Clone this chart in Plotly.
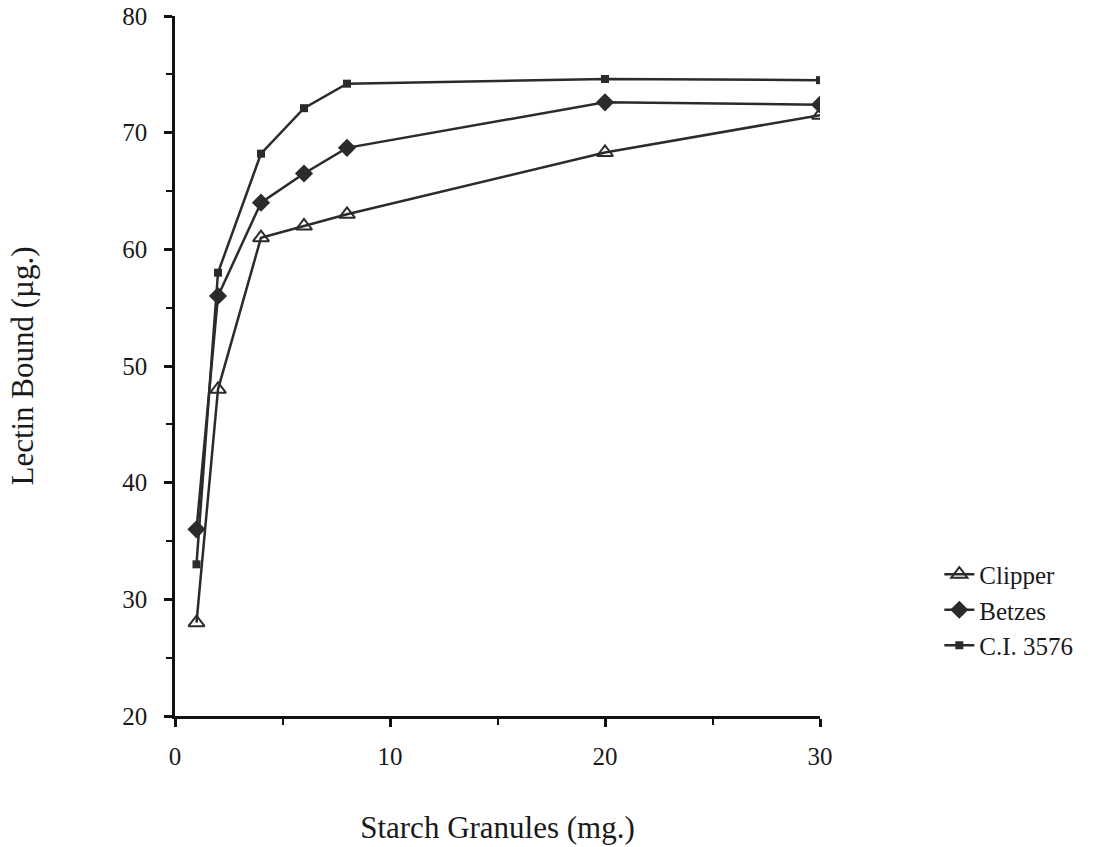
import plotly.graph_objects as go

starch_mg = [1, 2, 4, 6, 8, 20, 30]
clipper = [28, 48, 61, 62, 63, 68.3, 71.5]
betzes = [36, 56, 64, 66.5, 68.7, 72.6, 72.4]
ci3576 = [33, 58, 68.2, 72.1, 74.2, 74.6, 74.5]

series_names = ["Clipper", "Betzes", "C.I. 3576"]
x_ticks = [0, 10, 20, 30]
y_ticks = [20, 30, 40, 50, 60, 70, 80]

ink = "#2b2b2b"
font = "Liberation Serif, Times New Roman, serif"

fig = go.Figure()
fig.add_trace(go.Scatter(
    x=starch_mg, y=clipper, name=series_names[0], mode="lines+markers",
    line=dict(color=ink, width=2.5),
    marker=dict(symbol="triangle-up-open", size=14, color=ink, line=dict(width=2, color=ink)),
))
fig.add_trace(go.Scatter(
    x=starch_mg, y=betzes, name=series_names[1], mode="lines+markers",
    line=dict(color=ink, width=2.5),
    marker=dict(symbol="diamond", size=14, color=ink),
))
fig.add_trace(go.Scatter(
    x=starch_mg, y=ci3576, name=series_names[2], mode="lines+markers",
    line=dict(color=ink, width=2.5),
    marker=dict(symbol="square", size=8, color=ink),
))

fig.update_layout(
    width=1099, height=847,
    margin=dict(l=175, r=279, t=16, b=131, autoexpand=False),
    paper_bgcolor="white", plot_bgcolor="white",
    font=dict(family=font, color="#1a1a1a", size=25),
    legend=dict(
        x=1.185, y=0.235, xanchor="left", yanchor="top",
        font=dict(family=font, size=25, color="#1a1a1a"),
        tracegroupgap=0, itemwidth=30,
        bgcolor="rgba(0,0,0,0)",
    ),
    showlegend=True,
)
fig.update_xaxes(
    range=[0, 30], tickvals=x_ticks, ticktext=[str(v) for v in x_ticks],
    showline=True, linecolor="#111", linewidth=2.5, mirror=False,
    ticks="outside", ticklen=8, tickwidth=2.5, tickcolor="#111",
    minor=dict(dtick=5, tick0=0, ticks="outside", ticklen=6, tickwidth=2, tickcolor="#111"),
    showgrid=False, zeroline=False, automargin=False,
    ticklabelstandoff=8, ticklabeloverflow="allow",
    tickfont=dict(family=font, size=25),
    title=dict(text="Starch Granules (mg.)", font=dict(family=font, size=31), standoff=48),
)
fig.update_yaxes(
    range=[20, 80], tickvals=y_ticks, ticktext=[str(v) for v in y_ticks],
    showline=True, linecolor="#111", linewidth=2.5, mirror=False,
    ticks="outside", ticklen=8, tickwidth=2.5, tickcolor="#111",
    minor=dict(dtick=5, tick0=20, ticks="outside", ticklen=6, tickwidth=2, tickcolor="#111"),
    showgrid=False, zeroline=False, automargin=False,
    ticklabelstandoff=12, ticklabeloverflow="allow",
    tickfont=dict(family=font, size=25),
    title=dict(text="Lectin Bound (µg.)", font=dict(family=font, size=31), standoff=80),
)

fig.write_html(
    "out.html",
    config={"displayModeBar": False},
    post_script="document.body.style.margin='0';document.body.style.overflow='hidden';",
)
